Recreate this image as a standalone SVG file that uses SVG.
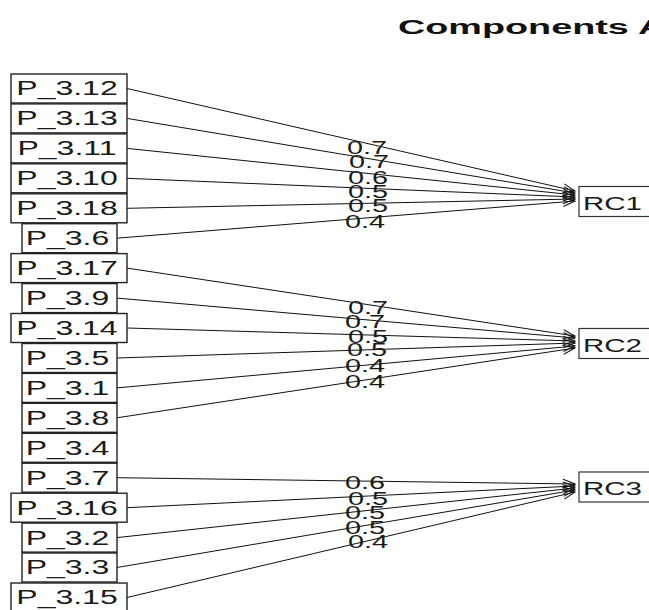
<svg xmlns="http://www.w3.org/2000/svg" width="649" height="610" viewBox="0 0 649 610">
  <style>
    .bg { fill: #ffffff; }
    .box { fill: #ffffff; stroke: #222222; stroke-width: 1.4; }
    .fbox { fill: #ffffff; stroke: #333333; stroke-width: 1.2; }
    .var { font-family: "Liberation Sans", Arial, sans-serif; font-size: 20px; fill: #1a1a1a; text-anchor: middle;
           transform-box: fill-box; transform-origin: center; transform: scaleX(1.6); }
    .fac { font-family: "Liberation Sans", Arial, sans-serif; font-size: 18px; fill: #1a1a1a; text-anchor: middle;
           transform-box: fill-box; transform-origin: center; transform: scaleX(1.64); }
    .load { font-family: "Liberation Sans", Arial, sans-serif; font-size: 17.5px; fill: #1a1a1a; text-anchor: middle;
            transform-box: fill-box; transform-origin: center; transform: scaleX(1.65); }
    .title { font-family: "Liberation Sans", Arial, sans-serif; font-size: 21px; font-weight: bold; fill: #111111; }
    .edge { stroke: #111111; stroke-width: 1; fill: none; marker-end: url(#arrow); }
  </style>
  <defs>
    <marker id="arrow" viewBox="-14 -7 15 14" refX="0" refY="0" markerWidth="15" markerHeight="14"
            markerUnits="userSpaceOnUse" orient="auto">
      <path d="M-12,-4.5 L0,0 L-12,4.5" fill="none" stroke="#111111" stroke-width="1"/>
    </marker>
  </defs>

  <rect class="bg" x="0" y="0" width="649" height="610"/>

  <text class="title" transform="translate(398,34) scale(1.8,1)" x="0" y="0">Components Analysis</text>

  <!-- loadings: variable -> component -->
  <g id="connectors">
    <line class="edge" x1="127" y1="88.5" x2="575" y2="191"/>
    <line class="edge" x1="127" y1="118.4" x2="575" y2="193"/>
    <line class="edge" x1="127" y1="148.4" x2="575" y2="195"/>
    <line class="edge" x1="127" y1="178.3" x2="575" y2="197"/>
    <line class="edge" x1="127" y1="208.3" x2="575" y2="199"/>
    <line class="edge" x1="117" y1="238.2" x2="575" y2="201"/>

    <line class="edge" x1="127" y1="268.1" x2="575" y2="336"/>
    <line class="edge" x1="117" y1="298.1" x2="575" y2="338"/>
    <line class="edge" x1="127" y1="328.0" x2="575" y2="341"/>
    <line class="edge" x1="117" y1="358.0" x2="575" y2="343"/>
    <line class="edge" x1="117" y1="387.9" x2="575" y2="346"/>
    <line class="edge" x1="117" y1="417.8" x2="575" y2="348"/>

    <line class="edge" x1="117" y1="477.7" x2="575" y2="484"/>
    <line class="edge" x1="127" y1="507.7" x2="575" y2="486"/>
    <line class="edge" x1="117" y1="537.6" x2="575" y2="488"/>
    <line class="edge" x1="117" y1="567.5" x2="575" y2="490"/>
    <line class="edge" x1="127" y1="597.5" x2="575" y2="492"/>

    <!-- loading values -->
    <text class="load" x="367" y="154.3">0.7</text>
    <text class="load" x="369" y="168.3">0.7</text>
    <text class="load" x="368" y="184.3">0.6</text>
    <text class="load" x="368" y="198.3">0.5</text>
    <text class="load" x="368" y="212.3">0.5</text>
    <text class="load" x="365" y="228.3">0.4</text>

    <text class="load" x="368" y="314.3">0.7</text>
    <text class="load" x="365" y="328.3">0.7</text>
    <text class="load" x="368" y="343.3">0.5</text>
    <text class="load" x="367" y="356.3">0.5</text>
    <text class="load" x="365" y="372.3">0.4</text>
    <text class="load" x="365" y="388.3">0.4</text>

    <text class="load" x="365" y="489.3">0.6</text>
    <text class="load" x="368" y="505.3">0.5</text>
    <text class="load" x="365" y="519.3">0.5</text>
    <text class="load" x="365" y="534.3">0.5</text>
    <text class="load" x="368" y="548.3">0.4</text>
  </g>

  <!-- observed variables -->
  <g id="P_3.12"><rect class="box" x="11" y="74.0" width="116" height="29"/><text class="var" x="67" y="95.5">P_3.12</text></g>
  <g id="P_3.13"><rect class="box" x="11" y="103.9" width="116" height="29"/><text class="var" x="67" y="125.4">P_3.13</text></g>
  <g id="P_3.11"><rect class="box" x="11" y="133.9" width="116" height="29"/><text class="var" x="67" y="155.4">P_3.11</text></g>
  <g id="P_3.10"><rect class="box" x="11" y="163.8" width="116" height="29"/><text class="var" x="67" y="185.3">P_3.10</text></g>
  <g id="P_3.18"><rect class="box" x="11" y="193.8" width="116" height="29"/><text class="var" x="67" y="215.3">P_3.18</text></g>
  <g id="P_3.6"><rect class="box" x="22" y="223.7" width="95" height="29"/><text class="var" x="67.5" y="245.2">P_3.6</text></g>
  <g id="P_3.17"><rect class="box" x="11" y="253.6" width="116" height="29"/><text class="var" x="67" y="275.1">P_3.17</text></g>
  <g id="P_3.9"><rect class="box" x="22" y="283.6" width="95" height="29"/><text class="var" x="67.5" y="305.1">P_3.9</text></g>
  <g id="P_3.14"><rect class="box" x="11" y="313.5" width="116" height="29"/><text class="var" x="67" y="335.0">P_3.14</text></g>
  <g id="P_3.5"><rect class="box" x="22" y="343.5" width="95" height="29"/><text class="var" x="67.5" y="365.0">P_3.5</text></g>
  <g id="P_3.1"><rect class="box" x="22" y="373.4" width="95" height="29"/><text class="var" x="67.5" y="394.9">P_3.1</text></g>
  <g id="P_3.8"><rect class="box" x="22" y="403.3" width="95" height="29"/><text class="var" x="67.5" y="424.8">P_3.8</text></g>
  <g id="P_3.4"><rect class="box" x="22" y="433.3" width="95" height="29"/><text class="var" x="67.5" y="454.8">P_3.4</text></g>
  <g id="P_3.7"><rect class="box" x="22" y="463.2" width="95" height="29"/><text class="var" x="67.5" y="484.7">P_3.7</text></g>
  <g id="P_3.16"><rect class="box" x="11" y="493.2" width="116" height="29"/><text class="var" x="67" y="514.7">P_3.16</text></g>
  <g id="P_3.2"><rect class="box" x="22" y="523.1" width="95" height="29"/><text class="var" x="67.5" y="544.6">P_3.2</text></g>
  <g id="P_3.3"><rect class="box" x="22" y="553.0" width="95" height="29"/><text class="var" x="67.5" y="574.5">P_3.3</text></g>
  <g id="P_3.15"><rect class="box" x="11" y="583.0" width="116" height="29"/><text class="var" x="67" y="604.5">P_3.15</text></g>

  <!-- components -->
  <g id="RC1"><rect class="fbox" x="579" y="186.5" width="90" height="30"/><text class="fac" x="612.5" y="210">RC1</text></g>
  <g id="RC2"><rect class="fbox" x="579" y="328.5" width="90" height="30"/><text class="fac" x="612.5" y="352">RC2</text></g>
  <g id="RC3"><rect class="fbox" x="579" y="472" width="90" height="30"/><text class="fac" x="612.5" y="495">RC3</text></g>
</svg>
